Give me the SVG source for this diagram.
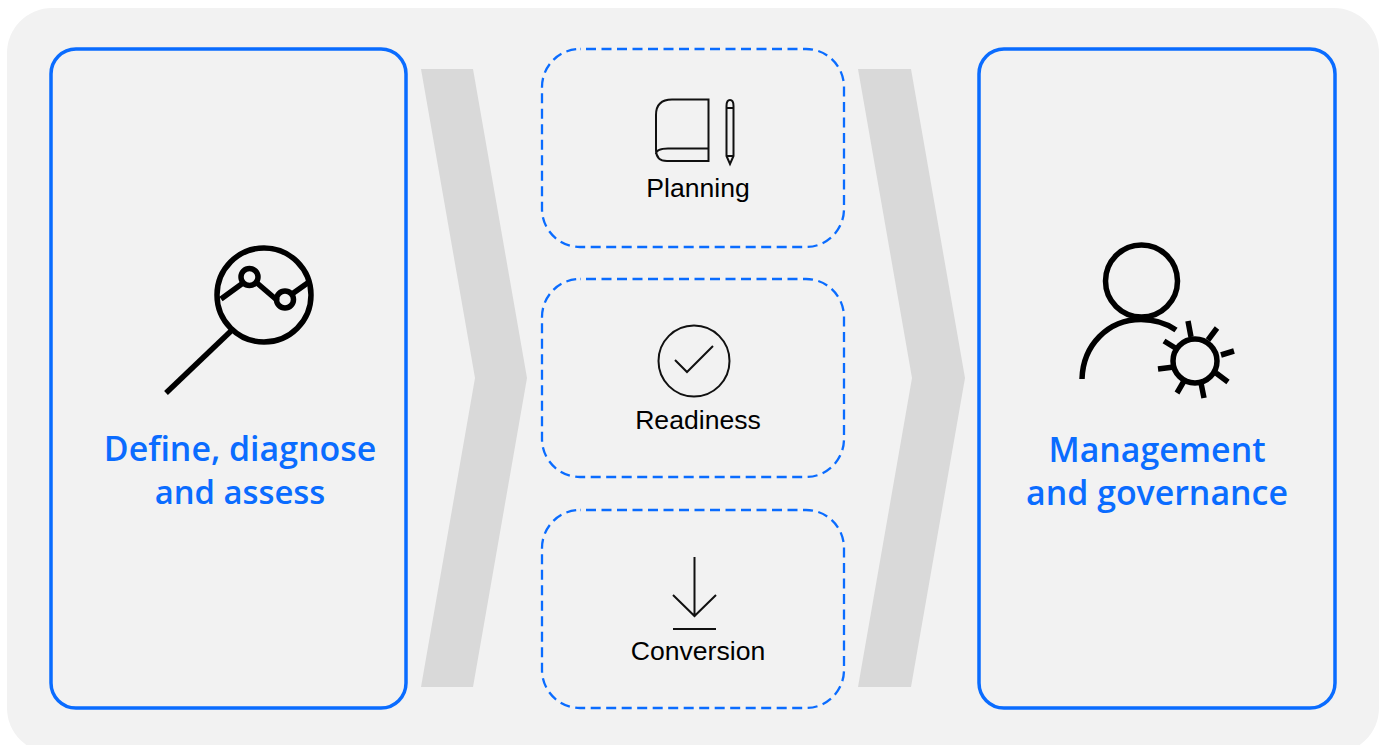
<svg xmlns="http://www.w3.org/2000/svg" width="1383" height="745" viewBox="0 0 1383 745">
<style>
.panel{fill:none;stroke:#0a6cff;stroke-width:3.5}
.dash{fill:none;stroke:#0a6cff;stroke-width:2.3;stroke-dasharray:10 5.5;stroke-dashoffset:9.5}
.chev{fill:#d9d9d9}
.ico{fill:none;stroke:#000;stroke-width:5.5;stroke-linecap:butt}
.thin{fill:none;stroke:#111;stroke-width:2}
.head{font-family:"Open Sans","Noto Sans",sans-serif;font-weight:600;font-size:33.9px;fill:#0a6cff;text-anchor:middle}
.sm{font-size:32.8px}
.lab{font-family:"Liberation Sans",Arial,sans-serif;font-size:26.6px;fill:#000;text-anchor:middle}
</style>
<rect width="1383" height="745" fill="#fff"/>
<rect x="7" y="8" width="1372" height="745" rx="45" fill="#f2f2f2"/>
<g id="connectors">
<polygon class="chev" points="421,69 473,69 527,378 473,687 421,687 475,378"/>
<polygon class="chev" points="858,69 911,69 965,378 911,687 858,687 912,378"/>
</g>
<g id="define">
<rect class="panel" x="51" y="49" width="355" height="659" rx="25"/>
<circle class="ico" cx="264" cy="295" r="47"/>
<path class="ico" d="M221 299L243 283M257 283L278 301M292 294L309 282"/>
<circle class="ico" cx="249.500" cy="277" r="8.500"/>
<circle class="ico" cx="285" cy="299.500" r="8.500"/>
<path class="ico" d="M231 331L166 393"/>
<text class="head" x="240" y="461">Define, diagnose</text>
<text class="head sm" x="240" y="503.500">and assess</text>
</g>
<g id="planning">
<rect class="dash" x="542" y="49" width="302" height="198" rx="38"/>
<path class="thin" d="M708.500 99.500H672Q656 99.500 656 115V150Q656 161 667 161H708.500ZM708.500 148.500H668Q656 148.500 656 154"/>
<path class="thin" d="M726.500 106Q726.500 100 730 100Q733.500 100 733.500 106V156L730 164L726.500 156ZM726.500 108H733.500M726.500 156H733.500"/>
<text class="lab" x="698" y="197">Planning</text>
</g>
<g id="readiness">
<rect class="dash" x="542" y="279" width="302" height="198" rx="38"/>
<circle class="thin" cx="694" cy="361" r="35.500"/>
<path class="thin" d="M675 360L687 372L713 346"/>
<text class="lab" x="698" y="429">Readiness</text>
</g>
<g id="conversion">
<rect class="dash" x="542" y="510" width="302" height="198" rx="38"/>
<path class="thin" d="M694.500 557V616M673 595L694.500 616L716 595M673 629H716"/>
<text class="lab" x="698" y="660">Conversion</text>
</g>
<g id="management">
<rect class="panel" x="979" y="49" width="356" height="659" rx="25"/>
<circle class="ico" cx="1141.500" cy="281" r="36"/>
<path class="ico" d="M1082 379C1083 345 1108 319.500 1141 319.500C1154 319.500 1166 323 1176 330"/>
<circle class="ico" cx="1195" cy="361" r="22"/>
<path class="ico" d="M1188 321L1191 337M1217 328L1208 340M1234 351L1221 355M1228 382L1216 373M1204 398L1201 383M1177 393L1184 381M1158 369L1174 367M1164 341L1177 349"/>
<text class="head" x="1157" y="462">Management</text>
<text class="head" x="1157" y="505">and governance</text>
</g>
</svg>
